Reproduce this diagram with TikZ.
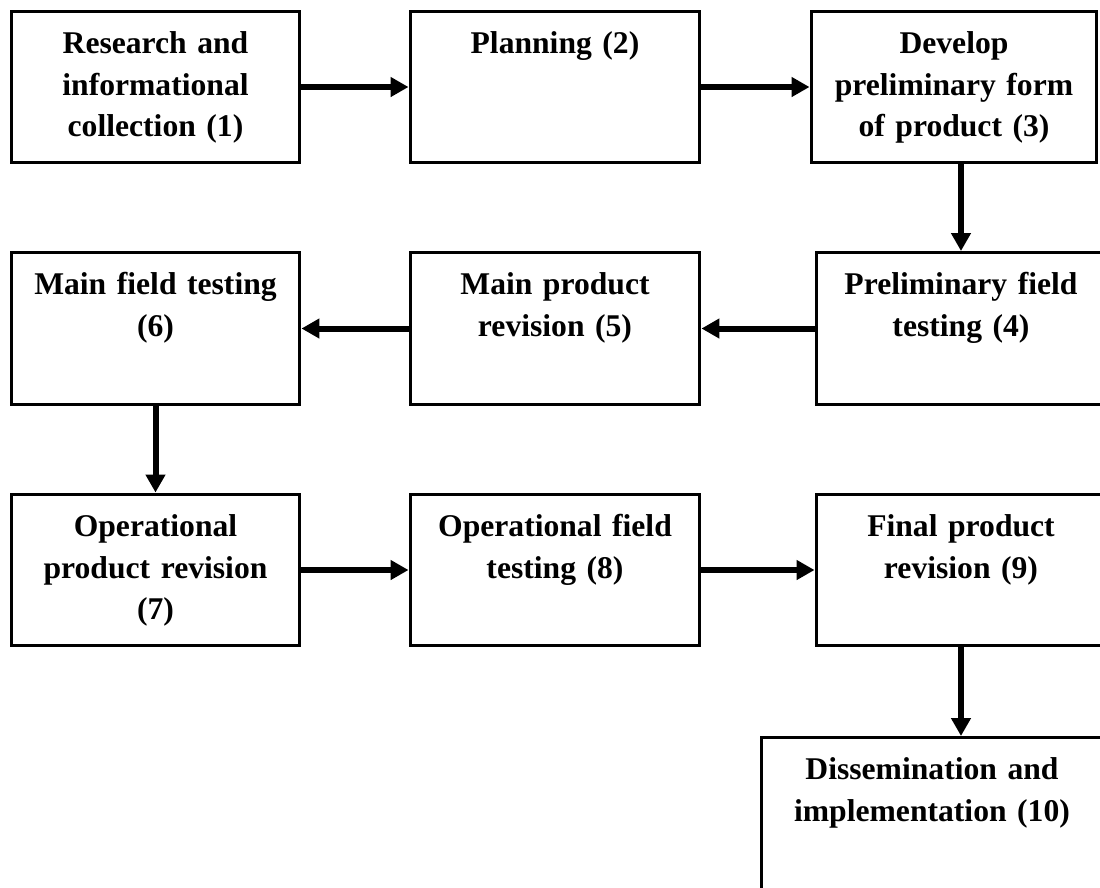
\documentclass[tikz,border=0pt]{standalone}
\usepackage{fontspec}
\setmainfont{Liberation Serif}
\usetikzlibrary{arrows.meta}

\begin{document}
\begin{tikzpicture}
  [x=0.02cm,y=-0.02cm,
   stage/.style={draw,line width=0.06cm,inner sep=0pt,align=center,
     text width=#1,text height=0.84cm,text depth=2.2cm,
     font=\fontsize{18}{23.9}\selectfont\bfseries},
   flow/.style={line width=0.12cm,-{Triangle[length=0.36cm,width=0.38cm]}}]
  \useasboundingbox (0,0) rectangle (1100,887);
  \clip (0,0) rectangle (1100,887);

  \node[stage=5.78cm] (s1) at (155.5,87)  {Research and\\informational\\collection (1)};
  \node[stage=5.8cm]  (s2) at (555,87)    {Planning (2)};
  \node[stage=5.72cm] (s3) at (954,87)    {Develop\\preliminary form\\of product (3)};
  \node[stage=5.8cm]  (s4) at (961,328.5) {Preliminary field\\testing (4)};
  \node[stage=5.8cm]  (s5) at (555,328.5) {Main product\\revision (5)};
  \node[stage=5.78cm] (s6) at (155.5,328.5) {Main field testing\\(6)};
  \node[stage=5.78cm] (s7) at (155.5,570) {Operational\\product revision\\(7)};
  \node[stage=5.8cm]  (s8) at (555,570)   {Operational field\\testing (8)};
  \node[stage=5.8cm]  (s9) at (961,570)   {Final product\\revision (9)};
  \node[stage=6.84cm,text depth=3.2cm,anchor=north] (s10) at (932,736)
    {Dissemination and\\implementation (10)};

  \foreach \from/\to in {s1/s2, s2/s3, s4/s5, s5/s6, s6/s7, s7/s8, s8/s9}
    \draw[flow] (\from) -- (\to);
  \draw[flow] (s3.south -| s4.north) -- (s4.north);
  \draw[flow] (s9.south) -- (s9.south |- s10.north);
\end{tikzpicture}
\end{document}
